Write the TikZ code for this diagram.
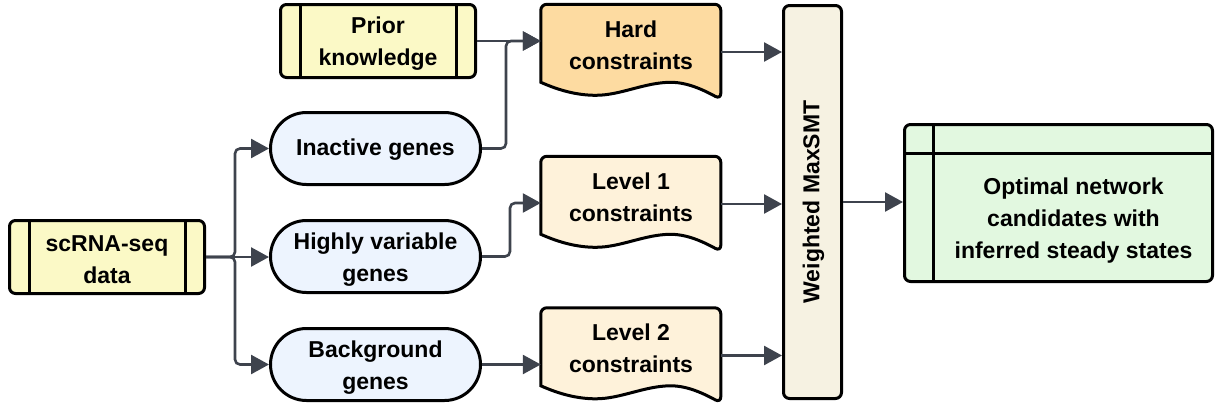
\documentclass[tikz,border=0pt]{standalone}
\usepackage{fontspec}
\setmainfont{Liberation Sans}
\usetikzlibrary{arrows.meta}
\definecolor{cYel}{HTML}{FBF9C6}
\definecolor{cBlue}{HTML}{EDF4FE}
\definecolor{cHard}{HTML}{FDDBA1}
\definecolor{cLevel}{HTML}{FEF2DA}
\definecolor{cSmt}{HTML}{F6F2E2}
\definecolor{cOut}{HTML}{E2F8E0}
\definecolor{cArr}{HTML}{3E434D}
\newcommand{\docpath}[2]{% #1 node name, #2 fill colour
  \begin{scope}[shift={(#1.north west)}]
    \draw[line width=3pt, fill=#2, rounded corners=6pt] (0,78) -- (0,0) -- (180,0) -- (180,95) [sharp corners]
      .. controls (165,87) and (148,78) .. (130,78)
      .. controls (104,78) and (80,91) .. (55,91)
      .. controls (36,91) and (18,86) .. (0,78) -- cycle;
  \end{scope}}
\begin{document}
\begin{tikzpicture}[x=1pt,y=-1pt,
  base/.style={draw=black, line width=3pt, inner sep=0pt},
  dbox/.style={base, rounded corners=6pt, minimum width=195pt, minimum height=73pt, fill=cYel},
  pill/.style={base, rounded corners=36pt, minimum width=210pt, minimum height=72pt, fill=cBlue},
  docnode/.style={minimum width=180pt, minimum height=95pt, inner sep=0pt},
  txt/.style={font=\fontsize{23}{32}\selectfont\bfseries, align=center, inner sep=0pt},
  arr/.style={draw=cArr, line width=2.6pt, rounded corners=5pt, -{Triangle[length=18pt,width=19pt]}}
]
\useasboundingbox (0,0) rectangle (1216,407);

% yellow data boxes
\node[dbox] (prior) at (378,41) {};
\node[txt] at ([yshift=-3pt]prior.center) {Prior\\knowledge};
\draw[line width=3pt] ([xshift=21pt]prior.north west) -- ([xshift=21pt]prior.south west);
\draw[line width=3pt] ([xshift=-21pt]prior.north east) -- ([xshift=-21pt]prior.south east);
\node[dbox] (scrna) at (107,257) {};
\node[txt] at ([yshift=-3pt]scrna.center) {scRNA-seq\\data};
\draw[line width=3pt] ([xshift=21pt]scrna.north west) -- ([xshift=21pt]scrna.south west);
\draw[line width=3pt] ([xshift=-21pt]scrna.north east) -- ([xshift=-21pt]scrna.south east);

% pills
\node[pill] (inactive) at (375.5,148.5) {};
\node[txt] at ([yshift=-1pt]inactive.center) {Inactive genes};
\node[pill] (hvg) at (375.5,256.5) {};
\node[txt] at ([yshift=-3pt]hvg.center) {Highly variable\\genes};
\node[pill] (bg) at (375.5,364.5) {};
\node[txt] at ([yshift=-3pt]bg.center) {Background\\genes};

% documents
\node[docnode] (hard) at (631,52) {};
\docpath{hard}{cHard}
\node[txt] at ([yshift=7pt]hard.center) {Hard\\constraints};
\node[docnode] (lev1) at (631,204) {};
\docpath{lev1}{cLevel}
\node[txt] at ([yshift=7pt]lev1.center) {Level 1\\constraints};
\node[docnode] (lev2) at (631,355.5) {};
\docpath{lev2}{cLevel}
\node[txt] at ([yshift=7pt]lev2.center) {Level 2\\constraints};

% MaxSMT
\node[base, rounded corners=6pt, minimum width=58pt, minimum height=393pt, fill=cSmt] (smt) at (812.5,202) {};
\node[txt, rotate=90] at ([xshift=1pt]smt.center) {Weighted MaxSMT};

% output
\node[base, rounded corners=6pt, minimum width=308pt, minimum height=157pt, fill=cOut] (out) at (1058.5,203) {};
\draw[line width=3pt] ([xshift=30pt]out.north west) -- ([xshift=30pt]out.south west);
\draw[line width=3pt] ([yshift=-30pt]out.north west) -- ([yshift=-30pt]out.north east);
\node[txt] at ([xshift=15pt,yshift=-18pt]out.center) {Optimal network\\candidates with\\inferred steady states};

% connectors
\draw[arr] (scrna.east) -- ++(29,0) |- (inactive.west);
\draw[arr] (scrna.east) -- (scrna.east -| hvg.west);
\draw[arr] (scrna.east) -- ++(29,0) |- (bg.west);
\draw[arr] (prior.east) -- (prior.east -| hard.west);
\draw[arr] (inactive.east) -- ++(24,0) |- (prior.east -| hard.west);
\draw[arr] (hvg.east) -- ++(28,0) |- ([yshift=1pt]lev1.west);
\draw[arr] (bg.east) -- (bg.east -| lev2.west);
\draw[arr] (hard.east) -- (hard.east -| smt.west);
\draw[arr] (lev1.east) -- (lev1.east -| smt.west);
\draw[arr] (lev2.east) -- (lev2.east -| smt.west);
\draw[arr] (smt.east) -- (smt.east -| out.west);
\end{tikzpicture}
\end{document}
